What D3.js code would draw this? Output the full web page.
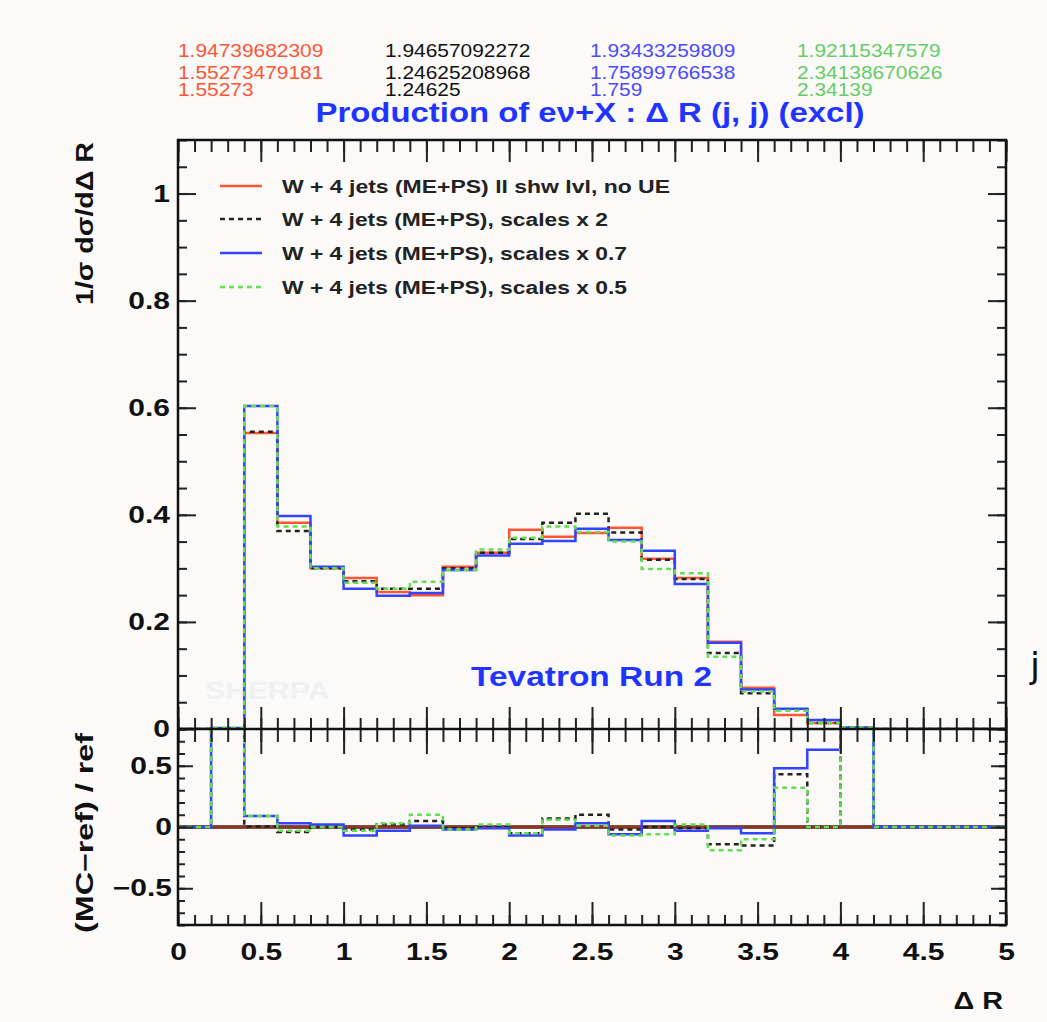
<!DOCTYPE html>
<html>
<head>
<meta charset="utf-8">
<script src="https://cdn.jsdelivr.net/npm/d3@7"></script>
<style>
  body { margin: 0; background: #fbfaf9; }
  svg { display: block; }
</style>
</head>
<body>
<div id="chart"></div>
<script>
// bin edges 0 .. 5 in steps of 0.2 (25 bins)
var binEdges = [0, 0.2, 0.4, 0.6, 0.8, 1.0, 1.2, 1.4, 1.6, 1.8, 2.0, 2.2, 2.4, 2.6, 2.8, 3.0, 3.2, 3.4, 3.6, 3.8, 4.0, 4.2, 4.4, 4.6, 4.8, 5.0]

var refValues   = [0, 0, 0.553, 0.385, 0.300, 0.282, 0.256, 0.250, 0.303, 0.329, 0.372, 0.359, 0.366, 0.376, 0.318, 0.282, 0.163, 0.077, 0.026, 0.011, 0.001, 0, 0, 0, 0]
var scale2Values  = [0, 0.001, 0.555, 0.370, 0.300, 0.276, 0.262, 0.262, 0.300, 0.329, 0.355, 0.385, 0.402, 0.367, 0.316, 0.280, 0.142, 0.067, 0.037, 0.011, 0.003, 0, 0, 0, 0]
var scale07Values = [0, 0.002, 0.603, 0.398, 0.303, 0.262, 0.249, 0.254, 0.297, 0.324, 0.346, 0.351, 0.374, 0.353, 0.333, 0.271, 0.161, 0.074, 0.038, 0.017, 0.003, 0, 0, 0, 0]
var scale05Values = [0, 0.002, 0.603, 0.378, 0.300, 0.273, 0.262, 0.275, 0.297, 0.335, 0.357, 0.378, 0.368, 0.350, 0.299, 0.291, 0.135, 0.070, 0.034, 0.011, 0.003, 0, 0, 0, 0]

// (MC-ref)/ref, 2 means off the top of the panel
var refRatio     = [0, 0, 0, 0, 0, 0, 0, 0, 0, 0, 0, 0, 0, 0, 0, 0, 0, 0, 0, 0, 0, 0, 0, 0, 0]
var scale2Ratio  = [0, 2, 0.005, -0.04, 0.0, -0.02, 0.02, 0.05, -0.01, 0.0, -0.05, 0.07, 0.10, -0.02, 0.0, -0.01, -0.14, -0.15, 0.43, 0.0, 2, 0, 0, 0, 0]
var scale07Ratio = [0, 2, 0.09, 0.03, 0.02, -0.07, -0.03, 0.01, -0.02, -0.01, -0.07, -0.02, 0.03, -0.06, 0.05, -0.03, -0.01, -0.05, 0.48, 0.63, 2, 0, 0, 0, 0]
var scale05Ratio = [0, 2, 0.09, -0.03, 0.0, -0.03, 0.03, 0.10, -0.02, 0.02, -0.05, 0.06, 0.01, -0.07, -0.06, 0.02, -0.19, -0.10, 0.32, 0.0, 2, 0, 0, 0, 0]

var legendLabels = [
    "W + 4 jets (ME+PS) ll shw lvl, no UE",
    "W + 4 jets (ME+PS), scales x 2",
    "W + 4 jets (ME+PS), scales x 0.7",
    "W + 4 jets (ME+PS), scales x 0.5"
]
var topNumbers = [
    ["1.94739682309", "1.55273479181", "1.55273"],
    ["1.94657092272", "1.24625208968", "1.24625"],
    ["1.93433259809", "1.75899766538", "1.759"],
    ["1.92115347579", "2.34138670626", "2.34139"]
]
var xTickValues = [0, 0.5, 1, 1.5, 2, 2.5, 3, 3.5, 4, 4.5, 5]
var yTickValues = [0, 0.2, 0.4, 0.6, 0.8, 1]
var rTickValues = [-0.5, 0, 0.5]

var styles = [
    { color: "#ff5533", dash: null, width: 2.5 },
    { color: "#222222", dash: "5,4", width: 2.5 },
    { color: "#3344ff", dash: null, width: 2.5 },
    { color: "#66dd55", dash: "5,4", width: 2.5 }
]
var mainSeries = [refValues, scale2Values, scale07Values, scale05Values]
var ratioSeries = [refRatio, scale2Ratio, scale07Ratio, scale05Ratio]

var svg_width = 1047
var svg_height = 1022
var pLeft = 178, pRight = 1006, pTop = 140, pMid = 729, pBottom = 925
var font = "'Liberation Sans', Arial, Helvetica, sans-serif"

var svg = d3.select("#chart").append("svg")
    .attr("width", svg_width)
    .attr("height", svg_height)
    .style("background", "#fbfaf9")

var x = d3.scaleLinear().domain([0, 5]).range([pLeft, pRight])
var y = d3.scaleLinear().domain([0, 1.1]).range([pMid, pTop])
var yr = d3.scaleLinear().domain([-0.8, 0.8]).range([pBottom, pMid])

function stretch(sel, k) {
    sel.each(function() {
        var w = this.getComputedTextLength()
        d3.select(this).attr("textLength", w * k).attr("lengthAdjust", "spacingAndGlyphs")
    })
}
function fit(sel, w) {
    sel.attr("textLength", w).attr("lengthAdjust", "spacingAndGlyphs")
}

// top numbers
var colColors = ["#ff5533", "#111111", "#4a4aff", "#66cc66"]
var colX = [178, 385, 590, 797]
var rowY = [57, 79, 96]
topNumbers.forEach(function(col, i) {
    col.forEach(function(s, j) {
        svg.append("text")
            .attr("x", colX[i]).attr("y", rowY[j])
            .attr("fill", colColors[i])
            .style("font-family", font).style("font-size", "19px")
            .text(s)
            .call(stretch, 1.1)
    })
})

svg.append("text")
    .attr("x", 590).attr("y", 122)
    .attr("text-anchor", "middle")
    .attr("fill", "#1f35ff")
    .style("font-family", font).style("font-size", "27px").style("font-weight", "bold")
    .text("Production of e\u03bd+X : \u0394 R (j, j) (excl)")
    .call(fit, 549)

// watermark
svg.append("text")
    .attr("x", 205).attr("y", 699)
    .attr("fill", "#f0f1f3")
    .style("font-family", font).style("font-size", "24px").style("font-weight", "bold")
    .text("SHERPA")
    .call(fit, 125)

svg.append("text")
    .attr("x", 471).attr("y", 686)
    .attr("fill", "#1f35ff")
    .style("font-family", font).style("font-size", "27px").style("font-weight", "bold")
    .text("Tevatron Run 2")
    .call(fit, 241)

// clip paths
var defs = svg.append("defs")
defs.append("clipPath").attr("id", "clipMain").append("rect")
    .attr("x", pLeft).attr("y", pTop).attr("width", pRight - pLeft).attr("height", pMid - pTop)
defs.append("clipPath").attr("id", "clipRatio").append("rect")
    .attr("x", pLeft).attr("y", pMid).attr("width", pRight - pLeft).attr("height", pBottom - pMid)

function stepPoints(vals) {
    var pts = vals.map((v, i) => [binEdges[i], v])
    pts.push([binEdges[binEdges.length - 1], vals[vals.length - 1]])
    return pts
}

var mainLine = d3.line().x(d => x(d[0])).y(d => y(d[1])).curve(d3.curveStepAfter)
var ratioLine = d3.line().x(d => x(d[0])).y(d => yr(d[1])).curve(d3.curveStepAfter)

var mainG = svg.append("g").attr("clip-path", "url(#clipMain)")
mainSeries.forEach(function(vals, i) {
    mainG.append("path")
        .attr("d", mainLine(stepPoints(vals)))
        .attr("fill", "none")
        .attr("stroke", styles[i].color)
        .attr("stroke-width", styles[i].width)
        .attr("stroke-dasharray", styles[i].dash)
})

var ratioG = svg.append("g").attr("clip-path", "url(#clipRatio)")
// dark zero line under the reference ratio, gives the brownish look
ratioG.append("line")
    .attr("x1", pLeft).attr("x2", pRight)
    .attr("y1", yr(0)).attr("y2", yr(0))
    .attr("stroke", "#3a1a10").attr("stroke-width", 3.5)
ratioSeries.forEach(function(vals, i) {
    ratioG.append("path")
        .attr("d", ratioLine(stepPoints(vals)))
        .attr("fill", "none")
        .attr("stroke", styles[i].color)
        .attr("stroke-width", styles[i].width)
        .attr("stroke-dasharray", styles[i].dash)
        .attr("stroke-opacity", i == 0 ? 0.45 : 1)
})

// ticks
var xMinor = d3.range(0, 51).map(d => d / 10)
var yMinor = d3.range(0, 23).map(d => d * 0.05)
var rMinor = d3.range(-8, 9).map(d => d / 10)

function ticks(axis, tx, ty) {
    var g = svg.append("g")
        .attr("transform", "translate(" + tx + "," + ty + ")")
        .call(axis.tickFormat(""))
    g.select(".domain").remove()
    g.selectAll("line").attr("stroke", "#222").attr("stroke-width", 2)
}
ticks(d3.axisTop(x).tickValues(xTickValues).tickSize(22), 0, pMid)
ticks(d3.axisTop(x).tickValues(xMinor).tickSize(11), 0, pMid)
ticks(d3.axisBottom(x).tickValues(xTickValues).tickSize(22), 0, pTop)
ticks(d3.axisBottom(x).tickValues(xMinor).tickSize(12), 0, pTop)
ticks(d3.axisBottom(x).tickValues(xTickValues).tickSize(25), 0, pMid)
ticks(d3.axisBottom(x).tickValues(xMinor).tickSize(13), 0, pMid)
ticks(d3.axisTop(x).tickValues(xTickValues).tickSize(23), 0, pBottom)
ticks(d3.axisTop(x).tickValues(xMinor).tickSize(10), 0, pBottom)

ticks(d3.axisRight(y).tickValues(yTickValues).tickSize(18), pLeft, 0)
ticks(d3.axisRight(y).tickValues(yMinor).tickSize(9), pLeft, 0)
ticks(d3.axisLeft(y).tickValues(yTickValues).tickSize(18), pRight, 0)
ticks(d3.axisLeft(y).tickValues(yMinor).tickSize(9), pRight, 0)

ticks(d3.axisRight(yr).tickValues(rTickValues).tickSize(15), pLeft, 0)
ticks(d3.axisRight(yr).tickValues(rMinor).tickSize(7), pLeft, 0)
ticks(d3.axisLeft(yr).tickValues(rTickValues).tickSize(15), pRight, 0)
ticks(d3.axisLeft(yr).tickValues(rMinor).tickSize(7), pRight, 0)

// frame
svg.append("rect")
    .attr("x", pLeft).attr("y", pTop)
    .attr("width", pRight - pLeft).attr("height", pBottom - pTop)
    .attr("fill", "none").attr("stroke", "#111").attr("stroke-width", 2.5)
svg.append("line")
    .attr("x1", pLeft).attr("x2", pRight).attr("y1", pMid).attr("y2", pMid)
    .attr("stroke", "#111").attr("stroke-width", 2.5)

// tick labels
var fmt = d => (d < 0 ? "\u2212" : "") + String(+Math.abs(d).toFixed(2))

function labels(axis, tx, ty) {
    var g = svg.append("g")
        .attr("transform", "translate(" + tx + "," + ty + ")")
        .call(axis.tickFormat(fmt))
    g.select(".domain").remove()
    g.selectAll("line").remove()
    g.selectAll("text")
        .attr("fill", "#111")
        .style("font-family", font).style("font-size", "24px").style("font-weight", "bold")
        .call(stretch, 1.25)
}
labels(d3.axisBottom(x).tickValues(xTickValues).tickSize(0).tickPadding(18), 0, pBottom)
labels(d3.axisLeft(y).tickValues(yTickValues).tickSize(0).tickPadding(8), pLeft, 0)
labels(d3.axisLeft(yr).tickValues(rTickValues).tickSize(0).tickPadding(6), pLeft, 0)

// axis titles
svg.append("text")
    .attr("x", 1003).attr("y", 1009)
    .attr("text-anchor", "end")
    .attr("fill", "#111")
    .style("font-family", font).style("font-size", "24px").style("font-weight", "bold")
    .text("\u0394 R")
    .call(stretch, 1.2)

svg.append("text")
    .attr("transform", "rotate(-90)")
    .attr("x", -142).attr("y", 93)
    .attr("text-anchor", "end")
    .attr("fill", "#111")
    .style("font-family", font).style("font-size", "23px").style("font-weight", "bold")
    .text("1/\u03c3 d\u03c3/d\u0394 R")
    .call(fit, 163)

svg.append("text")
    .attr("transform", "rotate(-90)")
    .attr("x", -733).attr("y", 93)
    .attr("text-anchor", "end")
    .attr("fill", "#111")
    .style("font-family", font).style("font-size", "23px").style("font-weight", "bold")
    .text("(MC\u2212ref) / ref")
    .call(fit, 200)

// legend
var legend = svg.append("g")
var legendY = [186, 219, 253, 287]
var legendW = [388, 326, 345, 345]
legendLabels.forEach(function(s, i) {
    legend.append("line")
        .attr("x1", 220).attr("x2", 262)
        .attr("y1", legendY[i]).attr("y2", legendY[i])
        .attr("stroke", styles[i].color)
        .attr("stroke-width", styles[i].width)
        .attr("stroke-dasharray", styles[i].dash)
    legend.append("text")
        .attr("x", 282).attr("y", legendY[i] + 6.5)
        .attr("fill", "#222")
        .style("font-family", font).style("font-size", "18px").style("font-weight", "bold")
        .text(s)
        .call(fit, legendW[i])
})

// stray glyph at the right edge
svg.append("text")
    .attr("x", 1030).attr("y", 678)
    .attr("fill", "#111")
    .style("font-family", "'DejaVu Sans', sans-serif").style("font-size", "36px")
    .text("j")
</script>
</body>
</html>
